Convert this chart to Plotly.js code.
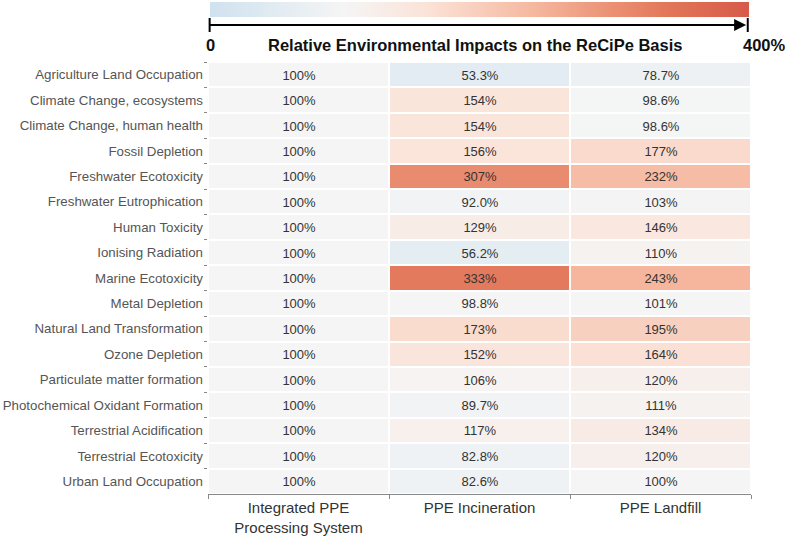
<!DOCTYPE html>
<html>
<head>
<meta charset="utf-8">
<script src="https://cdn.plot.ly/plotly-3.0.1.min.js"></script>
<style>html,body{margin:0;padding:0;background:#fff;}#chart{width:790px;height:537px;}</style>
</head>
<body>
<div id="chart"></div>
<script>
const categories = [
  "Agriculture Land Occupation","Climate Change, ecosystems","Climate Change, human health",
  "Fossil Depletion","Freshwater Ecotoxicity","Freshwater Eutrophication","Human Toxicity",
  "Ionising Radiation","Marine Ecotoxicity","Metal Depletion","Natural Land Transformation",
  "Ozone Depletion","Particulate matter formation","Photochemical Oxidant Formation",
  "Terrestrial Acidification","Terrestrial Ecotoxicity","Urban Land Occupation"
];
const scenarios = ["Integrated PPE<br>Processing System","PPE Incineration","PPE Landfill"];
const integrated = [100,100,100,100,100,100,100,100,100,100,100,100,100,100,100,100,100];
const incineration = [53.3,154,154,156,307,92.0,129,56.2,333,98.8,173,152,106,89.7,117,82.8,82.6];
const landfill = [78.7,98.6,98.6,177,232,103,146,110,243,101,195,164,120,111,134,120,100];

const series = [integrated, incineration, landfill];
const z = categories.map((c,i)=>series.map(s=>s[i]));
const fmt = v => (v>=100 ? v.toFixed(0) : v.toFixed(1)) + "%";
const text = categories.map((c,i)=>series.map(s=>fmt(s[i])));

const colorscale = [
  [0.0,"#cfe2ef"],[0.25,"#f5f5f5"],[0.4,"#fbe3d8"],[0.6,"#f5b89f"],
  [0.75,"#eb8f73"],[0.85,"#e27658"],[1.0,"#d65b48"]
];

const FONT = "Liberation Sans, Arial, sans-serif";
// paper spans pixel y 2..494 (height 492); heatmap occupies pixel 62..494
const PH = 492, PB = 494;
const py = p => (PB - p) / PH;

const trace = {
  type: "heatmap",
  x: scenarios, y: categories, z: z,
  text: text, texttemplate: "%{text}",
  textfont: {family: FONT, size: 13, color: "#333"},
  zmin: 0, zmax: 400, colorscale: colorscale,
  xgap: 2, ygap: 2, hoverinfo: "skip",
  colorbar: {
    orientation: "h", x: 0.004, xanchor: "left", len: 0.993, lenmode: "fraction",
    y: 1, yanchor: "top", thickness: 15, thicknessmode: "pixels",
    outlinewidth: 0, showticklabels: false, ticks: "", xpad: 0, ypad: 0
  }
};

const arrowY = py(25);
const layout = {
  width: 790, height: 537,
  margin: {l: 208, r: 39, t: 2, b: 43},
  paper_bgcolor: "#fff", plot_bgcolor: "#fff",
  font: {family: FONT, color: "#444"},
  xaxis: {
    side: "bottom", tickson: "boundaries", ticks: "outside", ticklen: 4, tickcolor: "#888",
    showline: true, linecolor: "#888", linewidth: 1, showgrid: false, zeroline: false,
    tickfont: {family: FONT, size: 15, color: "#333"}, fixedrange: true
  },
  yaxis: {
    domain: [0, py(62)],
    autorange: "reversed", tickson: "boundaries", ticks: "outside", ticklen: 3, tickcolor: "#888",
    ticklabelstandoff: 4,
    showline: false, showgrid: false, zeroline: false,
    tickfont: {family: FONT, size: 13.3, color: "#555"}, fixedrange: true
  },
  shapes: [
    {type: "line", xref: "paper", yref: "paper", x0: 0.003, x1: 0.985, y0: arrowY, y1: arrowY, line: {color: "#000", width: 2}},
    {type: "line", xref: "paper", yref: "paper", x0: 0.003, x1: 0.003, y0: py(32), y1: py(18), line: {color: "#000", width: 2}},
    {type: "line", xref: "paper", yref: "paper", x0: 0.994, x1: 0.994, y0: py(32), y1: py(18), line: {color: "#000", width: 2}}
  ],
  annotations: [
    {xref: "paper", yref: "paper", x: 0.991, y: arrowY, ax: -30, ay: 0, text: "", showarrow: true,
     arrowhead: 2, arrowsize: 1.2, arrowwidth: 2, arrowcolor: "#000"},
    {xref: "paper", yref: "paper", x: 0.005, y: py(45), xanchor: "center", yanchor: "middle", showarrow: false,
     text: "<b>0</b>", font: {family: FONT, size: 16.5, color: "#111"}},
    {xref: "paper", yref: "paper", x: (475-208)/543, y: py(45), xanchor: "center", yanchor: "middle", showarrow: false,
     text: "<b>Relative Environmental Impacts on the ReCiPe Basis</b>", font: {family: FONT, size: 16.5, color: "#111"}},
    {xref: "paper", yref: "paper", x: (764-208)/543, y: py(45), xanchor: "center", yanchor: "middle", showarrow: false,
     text: "<b>400%</b>", font: {family: FONT, size: 16.5, color: "#111"}}
  ]
};

Plotly.newPlot("chart", [trace], layout, {displayModeBar: false, staticPlot: true});
</script>
</body>
</html>
